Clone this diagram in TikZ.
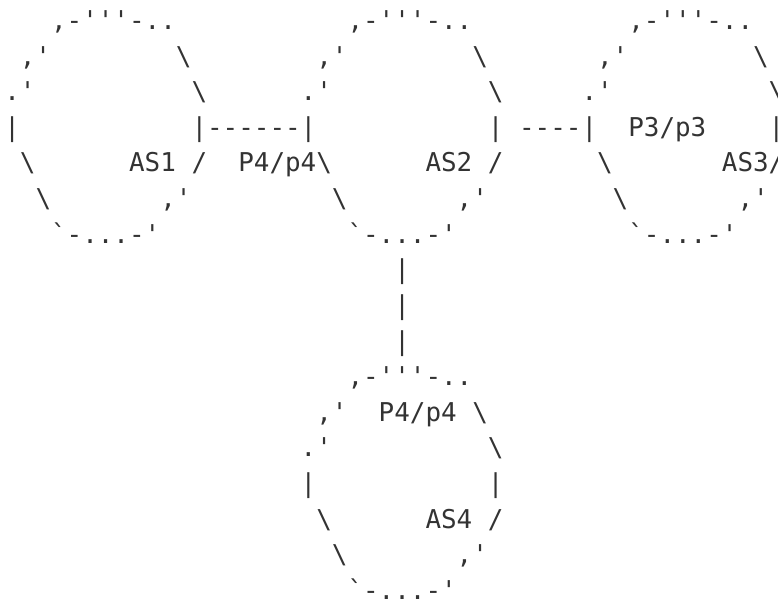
\documentclass[tikz,border=0pt]{standalone}
\usepackage{fontspec}
\setmonofont{DejaVu Sans Mono}
\definecolor{inkgray}{HTML}{333333}

\begin{document}
\begin{tikzpicture}[
    x=7.8pt, y=-17.8pt,
    every node/.style={inner sep=0pt, anchor=base west, text=inkgray, font=\ttfamily\fontsize{12.955}{15}\selectfont},
    bubble/.pic={
        \node (-top) at (3,0) {,-'''-..};
        \node (-nw) at (1,1) {,'};
        \node (-ne) at (11,1) {\textbackslash};
        \node (-wnw) at (0,2) {.'};
        \node (-ene) at (12,2) {\textbackslash};
        \node (-w) at (0,3) {|};
        \node (-e) at (12,3) {|};
        \node (-wsw) at (1,4) {\textbackslash};
        \node (-ese) at (12,4) {/};
        \node (-sw) at (2,5) {\textbackslash};
        \node (-se) at (10,5) {,'};
        \node (-bottom) at (3,6) {`-...-'};
    }
]
\useasboundingbox (-0.25,0.169) rectangle (49.62,17.051);

% the four AS bubbles
\pic (as1) at (0,1) {bubble};
\pic (as2) at (19,1) {bubble};
\pic (as3) at (37,1) {bubble};
\pic (as4) at (19,11) {bubble};

% labels
\node (as1label) at (8,5) {AS1};
\node (as2label) at (27,5) {AS2};
\node (as3label) at (46,5) {AS3};
\node (as4label) at (27,15) {AS4};
\node (peer12) at (15,5) {P4/p4};
\node (peer23) at (40,4) {P3/p3};
\node (peer24) at (24,12) {P4/p4};

% links between the bubbles
\node (link12) at (13,4) {------};
\node (link23) at (33,4) {----};
\foreach \r in {8,9,10}
    \node (link24-\r) at (25,\r) {|};
\end{tikzpicture}
\end{document}
